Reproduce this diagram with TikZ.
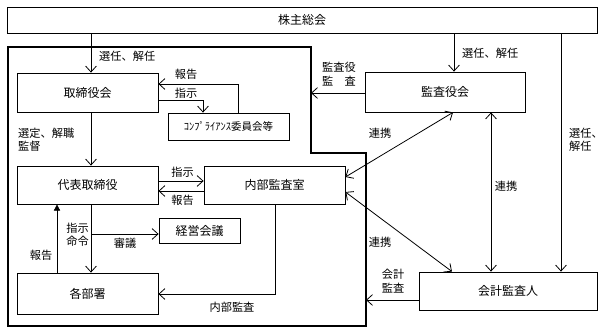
\documentclass[tikz,border=0pt]{standalone}
\usepackage{fontspec}
\setmainfont{Noto Sans CJK JP}
\usetikzlibrary{arrows.meta}
\tikzset{%
  box/.style={draw,line width=0.8pt,fill=white,inner sep=0pt,
    font=\fontsize{12}{14}\selectfont},
  flow/.style={-{Straight Barb[length=2.1mm,width=3.8mm]},line width=0.8pt},
  twoway/.style={{Straight Barb[length=2.1mm,width=3.8mm]}-{Straight Barb[length=2.1mm,width=3.8mm]},line width=0.8pt},
  upflow/.style={-{Triangle[length=2.2mm,width=2.2mm]},line width=0.8pt},
  lbl/.style={inner sep=0pt,align=center,font=\fontsize{11.2}{13.5}\selectfont},
  boundary/.style={line width=1.2pt}
}
\begin{document}
\begin{tikzpicture}[x=1pt,y=-1pt]
  \useasboundingbox (0,0) rectangle (604,334);
  % company boundary
  \draw[boundary] (8,47) -- (311,47) -- (311,153) -- (366,153) -- (366,326) -- (8,326) -- cycle;
  \coordinate (edgeA) at (311,93);
  \coordinate (edgeB) at (366,300);
  \coordinate (branch) at (91,234);

  \node[box,minimum width=590pt,minimum height=26pt] (soukai) at (302,20) {株主総会};
  \node[box,minimum width=141pt,minimum height=39pt] (torikai) at (87.5,92.5) {取締役会};
  \node[box,minimum width=121pt,minimum height=27pt,font=\fontsize{10.5}{12}\selectfont] (comp) at (228.5,126.5) {ｺﾝﾌﾟﾗｲｱﾝｽ委員会等};
  \node[box,minimum width=141pt,minimum height=38pt] (daihyo) at (87.5,185) {代表取締役};
  \node[box,minimum width=141pt,minimum height=38pt] (naibu) at (274.5,185) {内部監査室};
  \node[box,minimum width=81pt,minimum height=25pt] (keiei) at (199.5,230.5) {経営会議};
  \node[box,minimum width=141pt,minimum height=41pt] (busho) at (87.5,293.5) {各部署};
  \node[box,minimum width=160pt,minimum height=40pt] (kansa) at (445,92) {監査役会};
  \node[box,minimum width=178pt,minimum height=38pt] (kaikei) at (508,291) {会計監査人};

  % left side
  \draw[flow] (soukai.south -| 91,0) -- (torikai.north -| 91,0);
  \draw[flow] (torikai.south -| 91,0) -- (daihyo.north -| 91,0);
  \draw[flow] (torikai.east |- 0,100) -- (203,100) -- (comp.north -| 203,0);
  \draw[flow] (comp.north -| 238,0) -- (238,84) -- (torikai.east |- 0,84);
  \draw[flow] (daihyo.east |- 0,181) -- (naibu.west |- 0,181);
  \draw[flow] (naibu.west |- 0,191) -- (daihyo.east |- 0,191);
  \draw[flow] (daihyo.south -| 91,0) -- (busho.north -| 91,0);
  \draw[flow] (branch) -- (keiei.west |- branch);
  \draw[upflow] (busho.north -| 57,0) -- (daihyo.south -| 57,0);
  \draw[flow] (naibu.south -| 275,0) -- (275,294) -- (busho.east |- 0,294);

  % right side
  \draw[flow] (kansa.west |- edgeA) -- (edgeA);
  \draw[flow] (soukai.south -| 454,0) -- (kansa.north -| 454,0);
  \draw[flow] (soukai.south -| 561,0) -- (kaikei.north -| 561,0);
  \draw[twoway] (kansa.south -| 453,0) -- (naibu.east |- 0,177);
  \draw[twoway] (naibu.east |- 0,192) -- (kaikei.north -| 452,0);
  \draw[twoway] (kansa.south -| 491,0) -- (kaikei.north -| 491,0);
  \draw[flow] (kaikei.west |- edgeB) -- (edgeB);

  % labels
  \node[lbl,anchor=west] (l1) at (99,56) {選任、解任};
  \node[lbl] (l2) at (186,74) {報告};
  \node[lbl] (l3) at (186,93) {指示};
  \node[lbl,anchor=west,align=left] (l4) at (18,139.5) {選定、解職\\監督};
  \node[lbl] (l5) at (182.5,172) {指示};
  \node[lbl] (l6) at (182.5,200) {報告};
  \node[lbl,anchor=east] (l7) at (89,235) {指示\\命令};
  \node[lbl] (l8) at (125,243) {審議};
  \node[lbl] (l9) at (41,255) {報告};
  \node[lbl] (l10) at (232,307) {内部監査};
  \node[lbl] (l11) at (339,74) {監査役\\監　査};
  \node[lbl,anchor=west] (l12) at (462,53) {選任、解任};
  \node[lbl] (l13) at (380,133) {連携};
  \node[lbl] (l14) at (506,186) {連携};
  \node[lbl] (l15) at (380,242) {連携};
  \node[lbl,anchor=west,align=left] (l16) at (569,140) {選任、\\解任};
  \node[lbl] (l17) at (393,281) {会計\\監査};
\end{tikzpicture}
\end{document}
